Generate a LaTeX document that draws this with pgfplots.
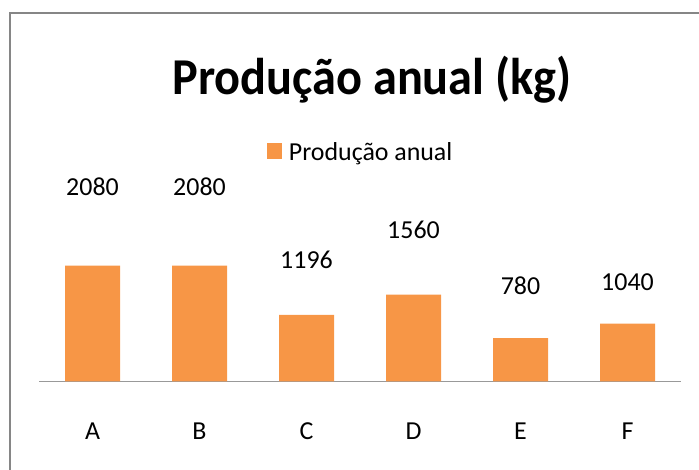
\documentclass[border=0pt]{standalone}
\usepackage{pgfplots}
\pgfplotsset{compat=1.18}
\usepackage{fontspec}
\setmainfont{Carlito}
\definecolor{barorange}{HTML}{F79646}
\definecolor{framegray}{HTML}{868686}
\begin{document}
\begin{tikzpicture}
\useasboundingbox (0bp,0bp) rectangle (699bp,470bp);
\draw[framegray, line width=2.5bp] (10bp,457bp) rectangle (720bp,-20bp);
\node[anchor=base, yscale=1.07, font=\fontsize{48.5}{54}\selectfont\bfseries] at (372bp,375bp) {Produção anual (kg)};
\begin{axis}[
  at={(39bp,88.5bp)}, anchor=south west,
  scale only axis, width=642bp, height=206bp,
  xmin=-0.5, xmax=5.5, ymin=0, ymax=3700,
  clip=false,
  axis y line=none,
  axis x line*=bottom,
  x axis line style={draw=gray!80, line width=1.2bp, -},
  xtick=data, xticklabels={A,B,C,D,E,F},
  major tick length=0pt,
  xticklabel style={anchor=center, yshift=-50bp, font=\fontsize{26}{30}\selectfont},
  legend style={at={(0.501,1.113)}, anchor=center, draw=none, fill=none,
    font=\fontsize{26}{30}\selectfont, inner sep=0pt},
  legend image code/.code={\fill[barorange] (0bp,-7bp) rectangle (15bp,9bp); \path (20bp,0bp);},
]
\addplot[ybar, bar width=55bp, fill=barorange, draw=none] coordinates {
  (0,2080) (1,2080) (2,1196) (3,1560) (4,780) (5,1040)
};
\addlegendentry{Produção anual}
\addplot[draw=none, forget plot, point meta=explicit symbolic, nodes near coords,
  every node near coord/.style={anchor=center, font=\fontsize{26}{30}\selectfont, text=black}]
  coordinates {
  (0,3497) [2080]
  (1,3497) [2080]
  (2,2181) [1196]
  (3,2720) [1560]
  (4,1715) [780]
  (5,1792) [1040]
};
\end{axis}
\end{tikzpicture}
\end{document}
